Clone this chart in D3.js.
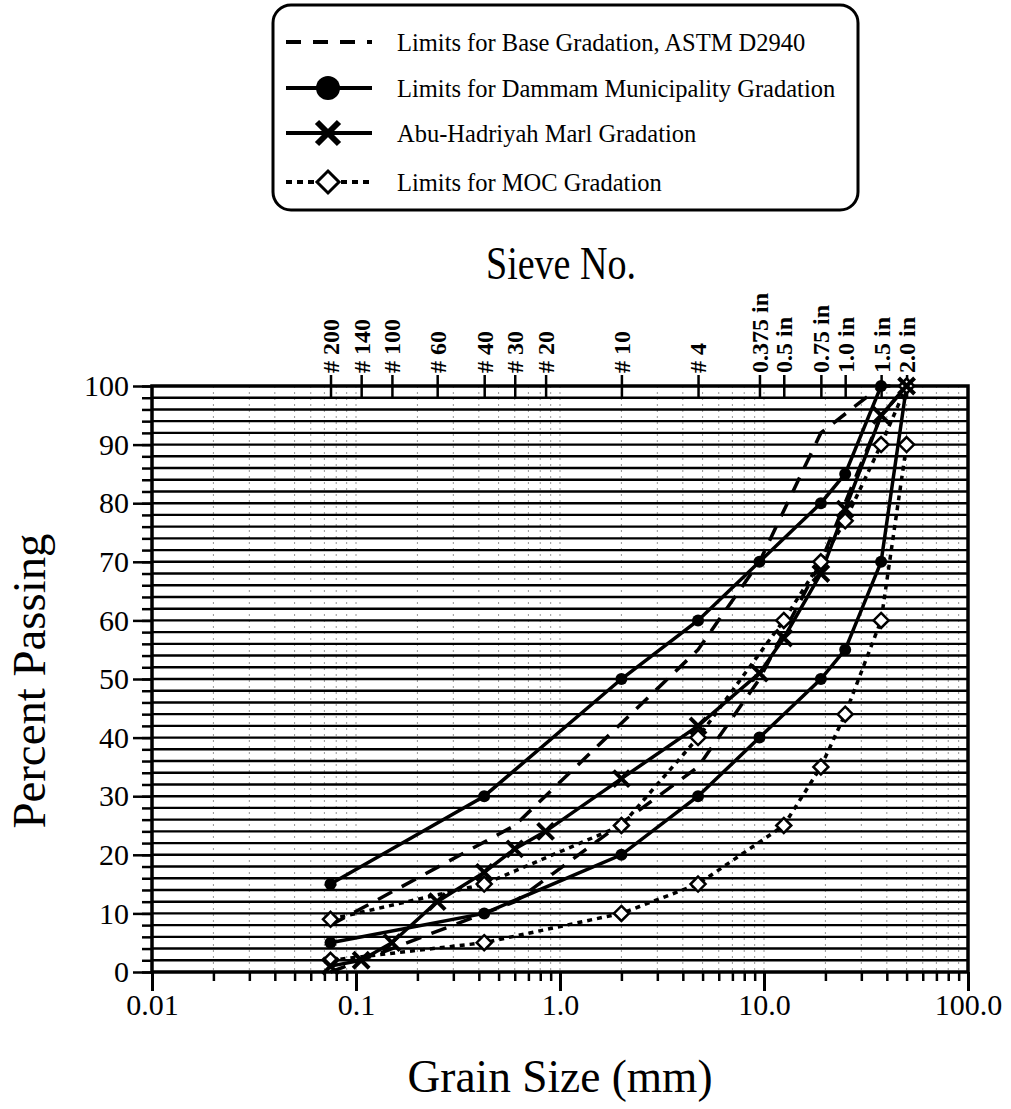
<!DOCTYPE html>
<html>
<head>
<meta charset="utf-8">
<script src="https://cdn.jsdelivr.net/npm/d3@7"></script>
<style>
  body { margin: 0; background: #fff; }
  svg { display: block; }
  text { font-family: "Liberation Serif", "Times New Roman", serif; fill: #000; }
</style>
</head>
<body>
<svg id="chart" width="1011" height="1109"></svg>
<script>
// Sieve openings (mm) and their names along the top axis
const sieveSizes  = [0.075, 0.106, 0.15, 0.25, 0.425, 0.6, 0.85, 2.0, 4.75, 9.5, 12.5, 19, 25, 37.5, 50];
const sieveLabels = ["# 200", "# 140", "# 100", "# 60", "# 40", "# 30", "# 20", "# 10", "# 4",
                     "0.375 in", "0.5 in", "0.75 in", "1.0 in", "1.5 in", "2.0 in"];

// Axis ticks
const xTickValues = [0.01, 0.1, 1, 10, 100];
const xTickLabels = ["0.01", "0.1", "1.0", "10.0", "100.0"];
const yTickValues = [0, 10, 20, 30, 40, 50, 60, 70, 80, 90, 100];

// ASTM D2940 base gradation band (percent passing)
const astmSizes = [0.075, 0.6, 4.75, 9.5, 19, 37.5, 50];
const astmUpper = [8, 25, 55, 70, 92, 100, 100];
const astmLower = [0, 12, 35, 50, 70, 95, 100];

// Dammam Municipality gradation band
const dammamUpperSizes = [0.075, 0.425, 2.0, 4.75, 9.5, 19, 25, 37.5];
const dammamUpper      = [15, 30, 50, 60, 70, 80, 85, 100];
const dammamLowerSizes = [0.075, 0.425, 2.0, 4.75, 9.5, 19, 25, 37.5, 50];
const dammamLower      = [5, 10, 20, 30, 40, 50, 55, 70, 100];

// Abu-Hadriyah marl gradation
const marlSizes   = [0.075, 0.106, 0.15, 0.25, 0.425, 0.6, 0.85, 2.0, 4.75, 9.5, 12.5, 19, 25, 37.5, 50];
const marlPassing = [1, 2, 5, 12, 17, 21, 24, 33, 42, 51, 57, 68, 79, 95, 100];

// MOC gradation band
const mocSizes = [0.075, 0.425, 2.0, 4.75, 12.5, 19, 25, 37.5, 50];
const mocUpper = [9, 15, 25, 40, 60, 70, 77, 90, 100];
const mocLower = [2, 5, 10, 15, 25, 35, 44, 60, 90];

const legendLabels = [
  "Limits for Base Gradation, ASTM D2940",
  "Limits for Dammam Municipality Gradation",
  "Abu-Hadriyah Marl Gradation",
  "Limits for MOC Gradation"
];

const zip = (xs, ys) => xs.map((v, i) => [v, ys[i]]);

const svg = d3.select("#chart");
const plotL = 152, plotR = 968, plotT = 386, plotB = 972;
const x = d3.scaleLog().domain([0.01, 100]).range([plotL, plotR]);
const y = d3.scaleLinear().domain([0, 100]).range([plotB, plotT]);

// ---- grid ----
const minorX = [];
for (let e = -2; e <= 1; e++) for (let k = 1; k <= 9; k++) minorX.push(+(k * Math.pow(10, e)).toPrecision(3));
minorX.push(100);
const innerX = minorX.filter(v => v > 0.0101 && v < 99);

svg.append("g").selectAll("line").data(innerX).join("line")
  .attr("x1", d => x(d)).attr("x2", d => x(d))
  .attr("y1", plotT).attr("y2", plotB)
  .attr("stroke", "#000").attr("stroke-width", 1)
  .attr("stroke-dasharray", "2,4").attr("opacity", 0.4);

svg.append("g").selectAll("line").data(d3.range(2, 100, 2)).join("line")
  .attr("x1", plotL).attr("x2", plotR)
  .attr("y1", d => y(d)).attr("y2", d => y(d))
  .attr("stroke", "#000").attr("stroke-width", 2.4);

// ---- axes ----
function styleAxis(g, w) {
  g.select(".domain").remove();
  g.selectAll(".tick line").attr("stroke", "#000").attr("stroke-width", w);
}

const minorXTicks = minorX.filter(v => !xTickValues.includes(v));
svg.append("g").attr("transform", `translate(0,${plotB})`)
  .call(d3.axisBottom(x).tickValues(minorXTicks).tickSize(9).tickFormat(""))
  .call(g => styleAxis(g, 2.5));
svg.append("g").attr("transform", `translate(0,${plotB})`)
  .call(d3.axisBottom(x).tickValues(xTickValues).tickSize(19).tickPadding(3)
        .tickFormat((d, i) => xTickLabels[i]))
  .call(g => styleAxis(g, 3))
  .call(g => g.selectAll("text").attr("font-size", 30).attr("font-family", "Liberation Serif"));

svg.append("g").attr("transform", `translate(${plotL},0)`)
  .call(d3.axisLeft(y).tickValues(d3.range(0, 101, 2)).tickSize(10).tickFormat(""))
  .call(g => styleAxis(g, 2.5));
svg.append("g").attr("transform", `translate(${plotL},0)`)
  .call(d3.axisLeft(y).tickValues(yTickValues).tickSize(19).tickPadding(4))
  .call(g => styleAxis(g, 2.5))
  .call(g => g.selectAll("text").attr("font-size", 30).attr("font-family", "Liberation Serif"));

svg.append("g").attr("transform", `translate(0,${plotT})`)
  .call(d3.axisTop(x).tickValues(sieveSizes).tickSize(11).tickFormat(""))
  .call(g => styleAxis(g, 2.5));
svg.append("g").attr("transform", `translate(0,${plotT})`)
  .call(d3.axisBottom(x).tickValues(sieveSizes).tickSize(12).tickFormat(""))
  .call(g => styleAxis(g, 2.5));

svg.append("g").selectAll("text").data(sieveSizes).join("text")
  .attr("transform", d => `translate(${x(d)},373) rotate(-90)`)
  .attr("dy", "0.35em")
  .attr("font-size", 24)
  .attr("font-weight", "bold")
  .text((d, i) => sieveLabels[i]);

// plot frame
svg.append("rect")
  .attr("x", plotL).attr("y", plotT)
  .attr("width", plotR - plotL).attr("height", plotB - plotT)
  .attr("fill", "none").attr("stroke", "#000").attr("stroke-width", 3.5);

// ---- series ----
const line = d3.line().x(d => x(d[0])).y(d => y(d[1]));
const series = [
  { pts: zip(astmSizes, astmUpper), dash: "16,11" },
  { pts: zip(astmSizes, astmLower), dash: "16,11" },
  { pts: zip(mocSizes, mocUpper), dash: "5,5" },
  { pts: zip(mocSizes, mocLower), dash: "5,5" },
  { pts: zip(dammamUpperSizes, dammamUpper), dash: null },
  { pts: zip(dammamLowerSizes, dammamLower), dash: null },
  { pts: zip(marlSizes, marlPassing), dash: null }
];
svg.append("g").selectAll("path").data(series).join("path")
  .attr("d", d => line(d.pts))
  .attr("fill", "none").attr("stroke", "#000").attr("stroke-width", 3.5)
  .attr("stroke-dasharray", d => d.dash);

// markers
const dots = zip(dammamUpperSizes, dammamUpper).concat(zip(dammamLowerSizes, dammamLower));
svg.append("g").selectAll("circle").data(dots).join("circle")
  .attr("cx", d => x(d[0])).attr("cy", d => y(d[1])).attr("r", 6).attr("fill", "#000");

const diamonds = zip(mocSizes, mocUpper).concat(zip(mocSizes, mocLower));
svg.append("g").selectAll("path").data(diamonds).join("path")
  .attr("transform", d => `translate(${x(d[0])},${y(d[1])})`)
  .attr("d", "M0,-7.5L7.5,0L0,7.5L-7.5,0Z")
  .attr("fill", "#fff").attr("stroke", "#000").attr("stroke-width", 2.5);

svg.append("g").selectAll("path").data(zip(marlSizes, marlPassing)).join("path")
  .attr("transform", d => `translate(${x(d[0])},${y(d[1])})`)
  .attr("d", "M-8,-8L8,8M-8,8L8,-8")
  .attr("stroke", "#000").attr("stroke-width", 4).attr("fill", "none");

// ---- titles ----
svg.append("text").attr("x", 561).attr("y", 279).attr("text-anchor", "middle")
  .attr("font-size", 46).attr("textLength", 150).attr("lengthAdjust", "spacingAndGlyphs")
  .text("Sieve No.");
svg.append("text").attr("x", 560).attr("y", 1092).attr("text-anchor", "middle")
  .attr("font-size", 46).attr("textLength", 305).attr("lengthAdjust", "spacingAndGlyphs")
  .text("Grain Size (mm)");
svg.append("text").attr("transform", "translate(45,681) rotate(-90)")
  .attr("text-anchor", "middle").attr("font-size", 46)
  .attr("textLength", 295).attr("lengthAdjust", "spacingAndGlyphs")
  .text("Percent Passing");

// ---- legend ----
const legend = svg.append("g");
legend.append("rect").attr("x", 273).attr("y", 5).attr("width", 585).attr("height", 205)
  .attr("rx", 18).attr("fill", "#fff").attr("stroke", "#000").attr("stroke-width", 3);
const rowsY = [42, 88, 133, 182];
const rowDash = ["15,12", null, null, "6,5"];
const rows = legend.selectAll("g.row").data(legendLabels).join("g").attr("class", "row")
  .attr("transform", (d, i) => `translate(0,${rowsY[i]})`);
rows.append("line").attr("x1", 286).attr("x2", 372)
  .attr("stroke", "#000").attr("stroke-width", 4)
  .attr("stroke-dasharray", (d, i) => rowDash[i]);
rows.append("text").attr("x", 397).attr("dy", "0.35em").attr("font-size", 24.5).text(d => d);
rows.filter((d, i) => i === 1).append("circle").attr("cx", 328).attr("r", 12).attr("fill", "#000");
rows.filter((d, i) => i === 2).append("path").attr("transform", "translate(328,0)")
  .attr("d", "M-11,-11L11,11M-11,11L11,-11").attr("stroke", "#000").attr("stroke-width", 6);
rows.filter((d, i) => i === 3).append("path").attr("transform", "translate(328,0)")
  .attr("d", "M0,-11L11,0L0,11L-11,0Z").attr("fill", "#fff").attr("stroke", "#000").attr("stroke-width", 3);
</script>
</body>
</html>
